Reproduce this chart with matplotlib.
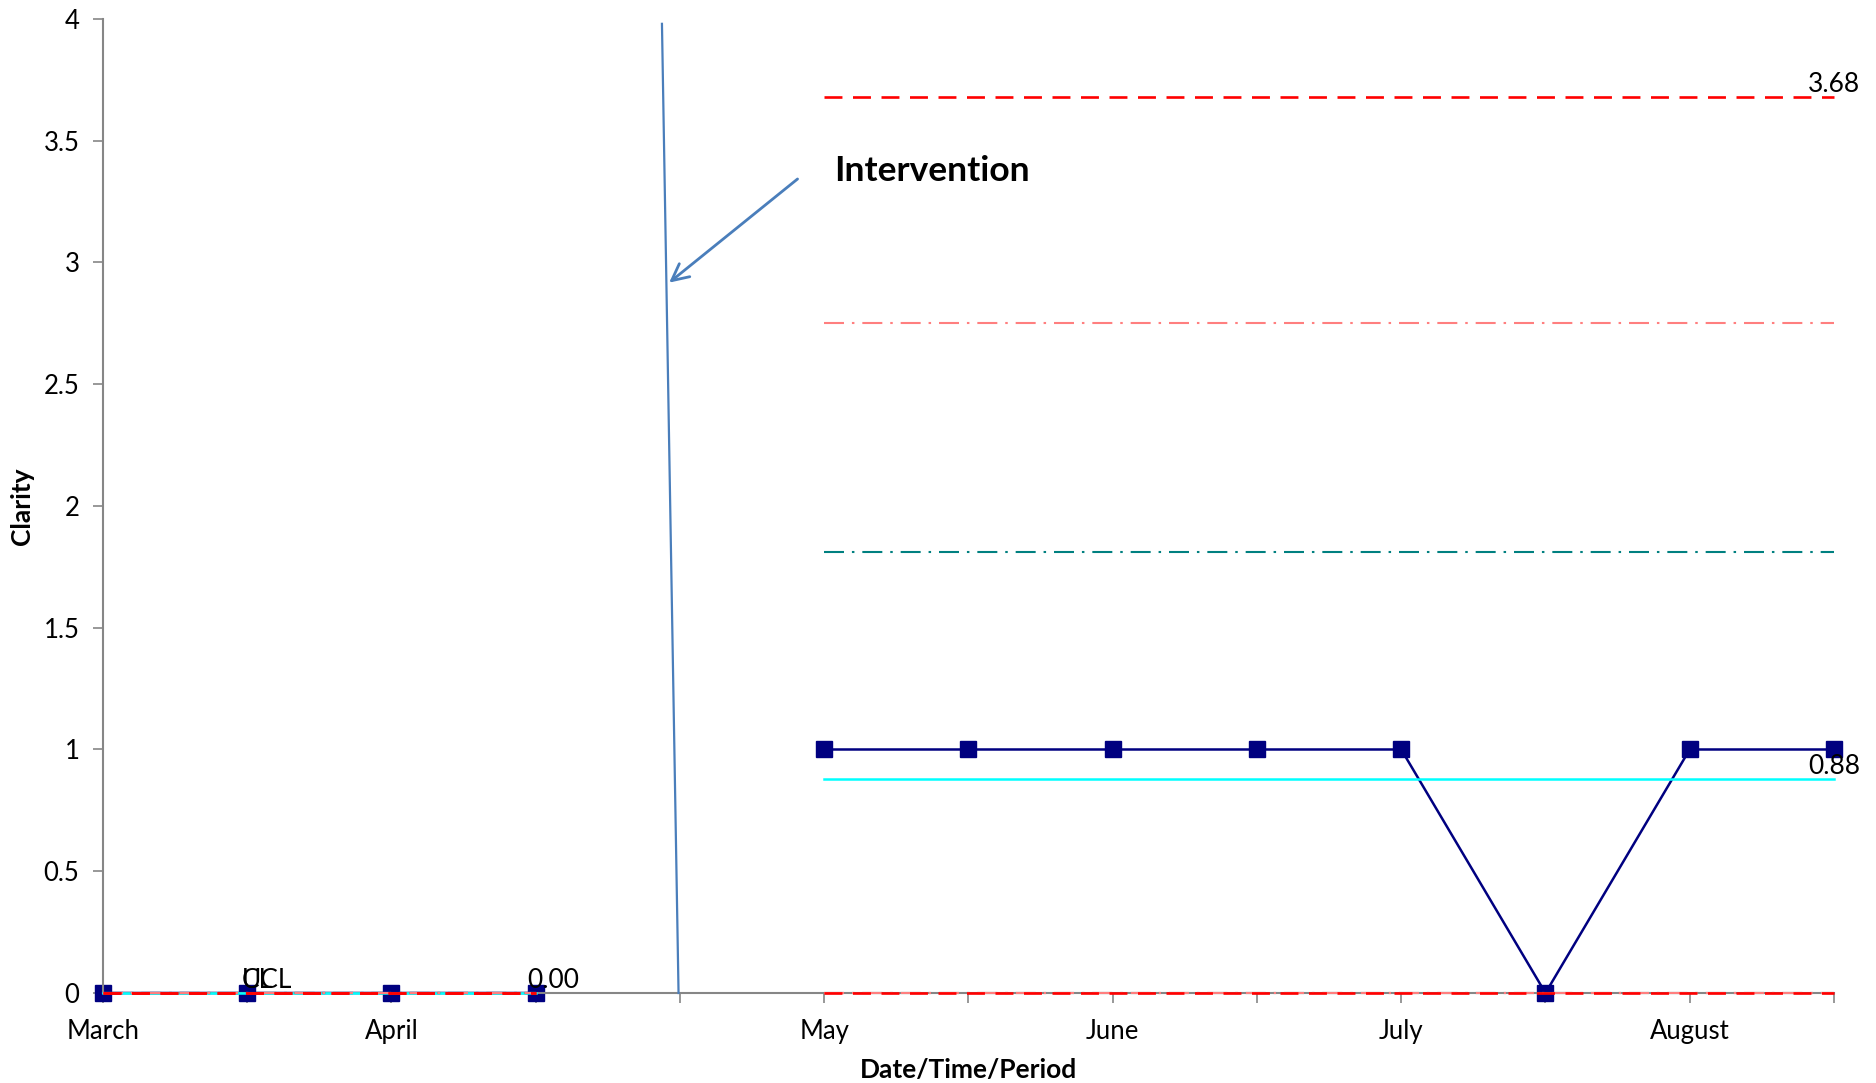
import numpy as np
import matplotlib.pyplot as plt

plt.rcParams['font.family'] = ['Lato', 'DejaVu Sans']

nan = np.nan
x = np.arange(13)
tick_labels = ['March', '', 'April', '', '', 'May', '', 'June', '', 'July', '', 'August', '']

clarity = [0, 0, 0, 0, nan, 1, 1, 1, 1, 1, 0, 1, 1]
ucl = [0, 0, 0, 0, nan, 3.68, 3.68, 3.68, 3.68, 3.68, 3.68, 3.68, 3.68]
plus2 = [0, 0, 0, 0, nan, 2.75, 2.75, 2.75, 2.75, 2.75, 2.75, 2.75, 2.75]
plus1 = [0, 0, 0, 0, nan, 1.81, 1.81, 1.81, 1.81, 1.81, 1.81, 1.81, 1.81]
cl = [0, 0, 0, 0, nan, 0.88, 0.88, 0.88, 0.88, 0.88, 0.88, 0.88, 0.88]
minus1 = [0, 0, 0, 0, nan, 0, 0, 0, 0, 0, 0, 0, 0]
minus2 = [0, 0, 0, 0, nan, 0, 0, 0, 0, 0, 0, 0, 0]
lcl = [0, 0, 0, 0, nan, 0, 0, 0, 0, 0, 0, 0, 0]

fig = plt.figure(figsize=(18.76, 10.83), dpi=100)
ax = fig.add_axes([0.0549, 0.0831, 0.9227, 0.8994])

ax.plot(x, clarity, color='#000080', lw=1.8, marker='s', markersize=12, zorder=2)

ax.plot(x, cl, color='#00FFFF', lw=1.8, zorder=3)
ax.plot(x, minus1, color='#008080', lw=1.5, dashes=(9.6, 3.8, 1.2, 3.8), zorder=3)
ax.plot(x, plus1, color='#008080', lw=1.5, dashes=(9.6, 3.8, 1.2, 3.8), zorder=3)
ax.plot(x, minus2, color='#FF7F7F', lw=1.5, dashes=(9.6, 3.8, 1.2, 3.8), zorder=3)
ax.plot(x, plus2, color='#FF7F7F', lw=1.5, dashes=(9.6, 3.8, 1.2, 3.8), zorder=3)
ax.plot(x, lcl, color='#FF0000', lw=1.9, dashes=(6.8, 4), zorder=4)
ax.plot(x, ucl, color='#FF0000', lw=1.9, dashes=(6.8, 4), zorder=4)

# data labels
ax.text(12, 3.68, '3.68', ha='center', va='bottom', fontsize=19)
ax.text(12, 0.88, '0.88', ha='center', va='bottom', fontsize=19)
ax.text(3.12, 0.0, '0.00', ha='center', va='bottom', fontsize=19)
ax.text(0.96, 0.0, 'UCL', ha='left', va='bottom', fontsize=19)
ax.text(0.96, 0.0, 'CL', ha='left', va='bottom', fontsize=19)

# intervention marker
ax.plot([3.875, 3.99], [3.98, 0], color='#4A7EBB', lw=1.6, zorder=5)
ax.annotate('', xy=(3.91, 2.91), xytext=(4.83, 3.35),
            arrowprops=dict(arrowstyle='->', color='#4A7EBB', lw=2, mutation_scale=30))
ax.text(5.07, 3.376, 'Intervention', fontsize=25.5, fontweight='bold', va='center', ha='left')

ax.set_xlim(0, 12)
ax.set_ylim(0, 4)
ax.set_xticks(x)
ax.set_xticklabels(tick_labels, fontsize=18.5)
ax.set_yticks(np.arange(0, 4.01, 0.5))
ax.set_yticklabels(['0', '0.5', '1', '1.5', '2', '2.5', '3', '3.5', '4'], fontsize=18.5)
ax.tick_params(colors='#868686', labelcolor='black', length=7, width=1.2)
ax.tick_params(axis='x', pad=12)
ax.tick_params(axis='y', pad=10)

for s in ['top', 'right']:
    ax.spines[s].set_visible(False)
for s in ['left', 'bottom']:
    ax.spines[s].set_color('#868686')
    ax.spines[s].set_linewidth(1.5)

ax.set_xlabel('Date/Time/Period', fontsize=19, fontweight='bold', labelpad=10)
ax.set_ylabel('Clarity', fontsize=19, fontweight='bold', va='center')
ax.yaxis.set_label_coords(-0.047, 0.5)

for line in ax.lines:
    line.set_clip_on(False)

fig.savefig('out.png', dpi=100)
